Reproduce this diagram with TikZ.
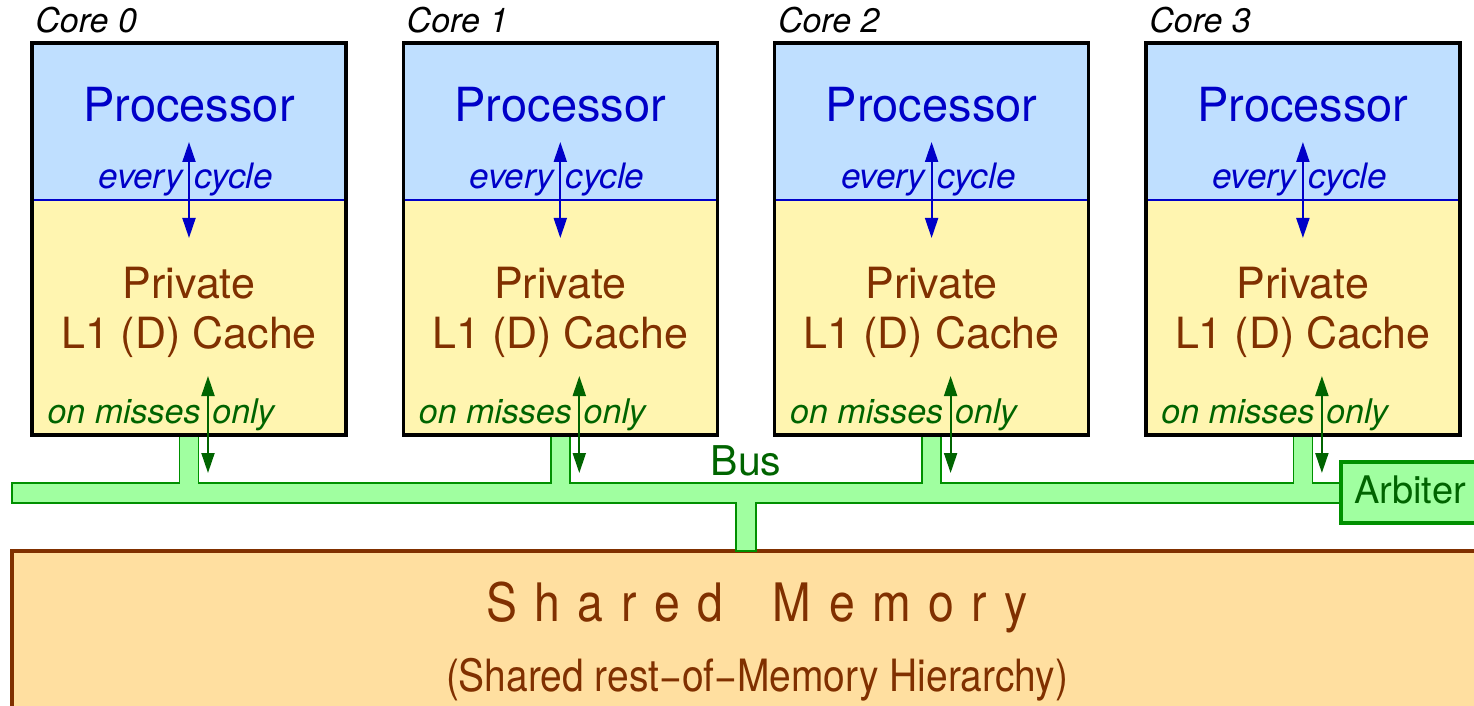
\documentclass[tikz,border=0pt]{standalone}
\usepackage{fontspec}
\setmainfont{TeX Gyre Heros}
\usetikzlibrary{arrows.meta}

\definecolor{procfill}{RGB}{191,223,255}
\definecolor{cachefill}{RGB}{255,245,176}
\definecolor{memfill}{RGB}{255,223,160}
\definecolor{busfill}{RGB}{160,255,160}
\definecolor{busedge}{RGB}{0,144,0}
\definecolor{darkgreen}{RGB}{0,100,0}
\definecolor{procblue}{RGB}{0,0,200}
\definecolor{brown}{RGB}{128,48,0}

\newcommand\fsz[1]{\fontsize{#1}{#1}\selectfont}

\tikzset{
  corebox/.style={draw=black, line width=1.7pt},
  divider/.style={draw=procblue, line width=0.6pt},
  bigtext/.style={inner sep=0pt, anchor=base},
  proctext/.style={bigtext, text=procblue, font=\fsz{23.5}},
  cachetext/.style={bigtext, text=brown, font=\fsz{21.5}},
  bluelabel/.style={inner sep=0pt, text=procblue, font=\fsz{17.5}\itshape},
  greenlabel/.style={inner sep=0pt, text=darkgreen, font=\fsz{17}\itshape},
  corelabel/.style={inner sep=0pt, anchor=base west, text=black, font=\fsz{17}\itshape},
  everyarrow/.style={draw=procblue, line width=1pt,
    {Triangle[length=10pt,width=6.5pt]}-{Triangle[length=10pt,width=6.5pt]}},
  missarrow/.style={draw=darkgreen, line width=1pt,
    {Triangle[length=10pt,width=6.5pt]}-{Triangle[length=10pt,width=6.5pt]}},
  busline/.style={draw=busedge, fill=busfill, line width=0.8pt},
  arbbox/.style={draw=busedge, fill=busfill, line width=2pt},
  membox/.style={draw=brown, fill=memfill, line width=2pt},
}

\begin{document}
\begin{tikzpicture}[x=0.5pt, y=-0.5pt]
\useasboundingbox (0,0) rectangle (1474,706);

\begin{scope}
  \clip (0,0) rectangle (1474,706);
  % shared memory block, running off the right and bottom edges
  \path[membox] (12,551) rectangle (1520,760);
  % bus with one stub per core and one down to memory
  \path[busline] (12,483) -- (179.5,483) -- (179.5,435) -- (198.5,435) -- (198.5,483)
    -- (550.8,483) -- (550.8,435) -- (569.8,435) -- (569.8,483)
    -- (922.1,483) -- (922.1,435) -- (941.1,435) -- (941.1,483)
    -- (1293.4,483) -- (1293.4,435) -- (1312.4,435) -- (1312.4,483)
    -- (1345,483) -- (1345,503) -- (756,503) -- (756,551) -- (736,551)
    -- (736,503) -- (12,503) -- cycle;
  % arbiter at the right end of the bus
  \path[arbbox] (1341,462) rectangle (1520,523);
\end{scope}

\node[inner sep=0pt, anchor=base west, text=darkgreen, font=\fsz{19}] (arbiter) at (1354,503) {Arbiter};
\node[bigtext, text=darkgreen, font=\fsz{20.5}] (bus) at (746,475) {Bus};

% memory labels
\node[bigtext, text=brown, font=\fsz{26.5}] (memtitle) at (757,621)
  {\scalebox{0.875}[1]{S\hspace{10pt}h\hspace{10pt}a\hspace{10pt}r\hspace{10pt}e\hspace{10pt}d\hspace{28.5pt}M\hspace{10pt}e\hspace{10pt}m\hspace{10pt}o\hspace{10pt}r\hspace{10pt}y}};
\node[bigtext, text=brown, font=\fsz{22.25}] (memsub) at (757,691)
  {\scalebox{0.875}[1]{(Shared rest−of−Memory Hierarchy)}};

% the four cores
\foreach \i in {0,1,2,3} {
  \pgfmathsetmacro\xl{32+371.3*\i}
  \pgfmathsetmacro\xr{\xl+314}
  \pgfmathsetmacro\xc{\xl+157}
  \pgfmathsetmacro\xa{\xl+176}
  \fill[procfill] (\xl,43) rectangle (\xr,200);
  \fill[cachefill] (\xl,200) rectangle (\xr,435);
  \draw[divider] (\xl,200) -- (\xr,200);
  \draw[corebox] (\xl,43) rectangle (\xr,435);

  \node[corelabel] (core\i) at (\xl+3,33) {Core \i};
  \node[proctext] (proc\i) at (\xc,122) {Processor};
  \node[cachetext] (priv\i) at (\xc,299) {Private};
  \node[cachetext] (cache\i) at (\xc,348) {L1 (D) Cache};

  \node[bluelabel, anchor=base east] (every\i) at (\xc-6,189) {every};
  \node[bluelabel, anchor=base west] (cycle\i) at (\xc+5,189) {cycle};
  \coordinate (ptop\i) at (\xc,142);
  \coordinate (pbot\i) at (\xc,238);
  \draw[everyarrow] (ptop\i) -- (pbot\i);

  \node[greenlabel, anchor=base east] (misses\i) at (\xa-7,423) {on misses};
  \node[greenlabel, anchor=base west] (only\i) at (\xa+4,423) {only};
  \coordinate (mtop\i) at (\xa,376);
  \coordinate (mbot\i) at (\xa,473);
  \draw[missarrow] (mtop\i) -- (mbot\i);
}
\end{tikzpicture}
\end{document}
